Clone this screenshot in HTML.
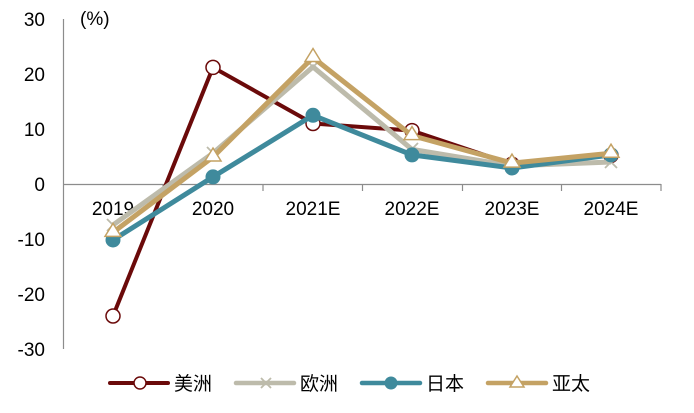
<!DOCTYPE html>
<html><head><meta charset="utf-8">
<style>
html,body{margin:0;padding:0;background:#fff;}
svg{display:block;}
text{font-family:"Liberation Sans","Noto Sans CJK SC",sans-serif;fill:#000;}
</style></head>
<body>
<svg width="694" height="413" viewBox="0 0 694 413" xmlns="http://www.w3.org/2000/svg">
<!-- axes -->
<line x1="63.5" y1="19" x2="63.5" y2="349" stroke="#8c8c8c" stroke-width="1.2"/>
<line x1="63" y1="184.5" x2="661" y2="184.5" stroke="#8c8c8c" stroke-width="1.2"/>
<g stroke="#8c8c8c" stroke-width="1.2">
<line x1="163" y1="184" x2="163" y2="191"/>
<line x1="263" y1="184" x2="263" y2="191"/>
<line x1="362.5" y1="184" x2="362.5" y2="191"/>
<line x1="462.5" y1="184" x2="462.5" y2="191"/>
<line x1="561.5" y1="184" x2="561.5" y2="191"/>
<line x1="661" y1="184" x2="661" y2="191"/>
</g>
<!-- y labels -->
<g font-size="19" text-anchor="end">
<text x="45" y="25.8">30</text>
<text x="45" y="80.8">20</text>
<text x="45" y="135.8">10</text>
<text x="45" y="190.8">0</text>
<text x="45" y="245.8">-10</text>
<text x="45" y="300.8">-20</text>
<text x="45" y="355.8">-30</text>
</g>
<text x="80" y="25" font-size="19">(%)</text>
<!-- x labels -->
<g font-size="19" text-anchor="middle">
<text x="113" y="215">2019</text>
<text x="213" y="215">2020</text>
<text x="313" y="215">2021E</text>
<text x="412" y="215">2022E</text>
<text x="512" y="215">2023E</text>
<text x="611" y="215">2024E</text>
</g>
<!-- 美洲 -->
<polyline points="113,316 213,67.4 313,123.5 412,130.6 512,164.2 611,155.4" fill="none" stroke="#6B0A0A" stroke-width="4" stroke-linejoin="round"/>
<g fill="#fff" stroke="#6B0A0A" stroke-width="1.5">
<circle cx="113" cy="316" r="7"/><circle cx="213" cy="67.4" r="7"/><circle cx="313" cy="123.5" r="7"/>
<circle cx="412" cy="130.6" r="7"/><circle cx="512" cy="164.2" r="7"/><circle cx="611" cy="155.4" r="7"/>
</g>
<!-- 欧洲 -->
<polyline points="113,225 213,153.2 313,66.9 412,149.4 512,165.9 611,162" fill="none" stroke="#BDBBAB" stroke-width="5" stroke-linejoin="round"/>
<g stroke="#BDBBAB" stroke-width="1.8">
<path d="M107,219 l12,12 M119,219 l-12,12"/>
<path d="M207,147 l12,12 M219,147 l-12,12"/>
<path d="M307,61 l12,12 M319,61 l-12,12"/>
<path d="M406,143 l12,12 M418,143 l-12,12"/>
<path d="M506,160 l12,12 M518,160 l-12,12"/>
<path d="M605,156 l12,12 M617,156 l-12,12"/>
</g>
<!-- 日本 -->
<polyline points="113,240 213,176.9 313,115.3 412,154.9 512,168 611,154.9" fill="none" stroke="#3F8A9C" stroke-width="5" stroke-linejoin="round"/>
<g fill="#3F8A9C">
<circle cx="113" cy="240" r="7.5"/><circle cx="213" cy="176.9" r="7.5"/><circle cx="313" cy="115.3" r="7.5"/>
<circle cx="412" cy="154.9" r="7.5"/><circle cx="512" cy="168" r="7.5"/><circle cx="611" cy="154.9" r="7.5"/>
</g>
<!-- 亚太 -->
<polyline points="113,232.4 213,157 313,57.5 412,135.6 512,163.1 611,153.2" fill="none" stroke="#C4A264" stroke-width="5" stroke-linejoin="round"/>
<g fill="#fff" stroke="#C4A264" stroke-width="1.5">
<path d="M113,223.4 l8,13 h-16 z"/>
<path d="M213,148 l8,13 h-16 z"/>
<path d="M313,48.5 l8,13 h-16 z"/>
<path d="M412,126.6 l8,13 h-16 z"/>
<path d="M512,154.1 l8,13 h-16 z"/>
<path d="M611,144.2 l8,13 h-16 z"/>
</g>
<!-- legend -->
<line x1="110" y1="383" x2="168" y2="383" stroke="#6B0A0A" stroke-width="4" stroke-linecap="round"/>
<circle cx="140" cy="383" r="6" fill="#fff" stroke="#6B0A0A" stroke-width="1.5"/>
<text x="174" y="390" font-size="19">美洲</text>
<line x1="236" y1="383" x2="294" y2="383" stroke="#BDBBAB" stroke-width="4.5" stroke-linecap="round"/>
<path d="M261,378 l10,10 M271,378 l-10,10" stroke="#BDBBAB" stroke-width="1.8"/>
<text x="300" y="390" font-size="19">欧洲</text>
<line x1="362" y1="383" x2="420" y2="383" stroke="#3F8A9C" stroke-width="4.5" stroke-linecap="round"/>
<circle cx="391" cy="383" r="6.5" fill="#3F8A9C"/>
<text x="426" y="390" font-size="19">日本</text>
<line x1="488" y1="383" x2="546" y2="383" stroke="#C4A264" stroke-width="4.5" stroke-linecap="round"/>
<path d="M517,376 l7,11 h-14 z" fill="#fff" stroke="#C4A264" stroke-width="1.5"/>
<text x="552" y="390" font-size="19">亚太</text>
</svg>
</body></html>
